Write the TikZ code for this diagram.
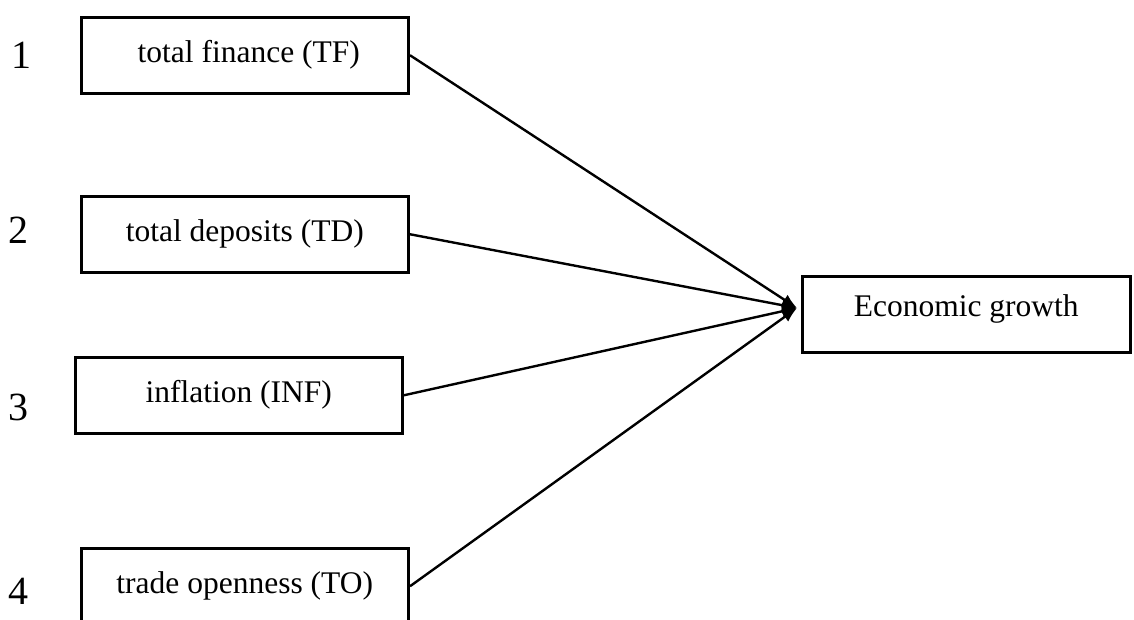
\documentclass[tikz,border=0pt]{standalone}
\usepackage{fontspec}
\setmainfont{Liberation Serif}
\usetikzlibrary{arrows.meta}
\begin{document}
\begin{tikzpicture}[x=1pt,y=-1pt,
  box/.style={draw, line width=3.5pt, inner xsep=0pt, inner ysep=0pt,
    minimum width=327pt, text height=45.5pt, text depth=30.5pt, anchor=north west,
    font=\fontsize{31.5}{36}\selectfont},
  num/.style={anchor=base, font=\fontsize{40}{44}\selectfont},
  conn/.style={line width=2.4pt, -{Latex[length=15pt,width=12pt]}}]
\useasboundingbox (0,0) rectangle (1134,619);
\node[box] (tf) at (79.5,15.5) {\hspace*{8pt}total finance (TF)};
\node[box] (td) at (79.5,194.5) {total deposits (TD)};
\node[box] (inf) at (73.5,355.5) {inflation (INF)};
\node[box] (to) at (79.5,546.5) {trade openness (TO)};
\node[box, minimum width=328pt, text height=40.5pt, text depth=35.5pt] (eg) at (800.5,274.5) {Economic growth};
\node[num] (n1) at (22,68) {1};
\node[num] (n2) at (19,243) {2};
\node[num] (n3) at (19,420) {3};
\node[num] (n4) at (19,604) {4};
\coordinate (tip) at (797,308);
\draw[conn] (tf.east) -- (tip);
\draw[conn] (td.east) -- (tip);
\draw[conn] (inf.east) -- (tip);
\draw[conn] (to.east) -- (tip);
\end{tikzpicture}
\end{document}
